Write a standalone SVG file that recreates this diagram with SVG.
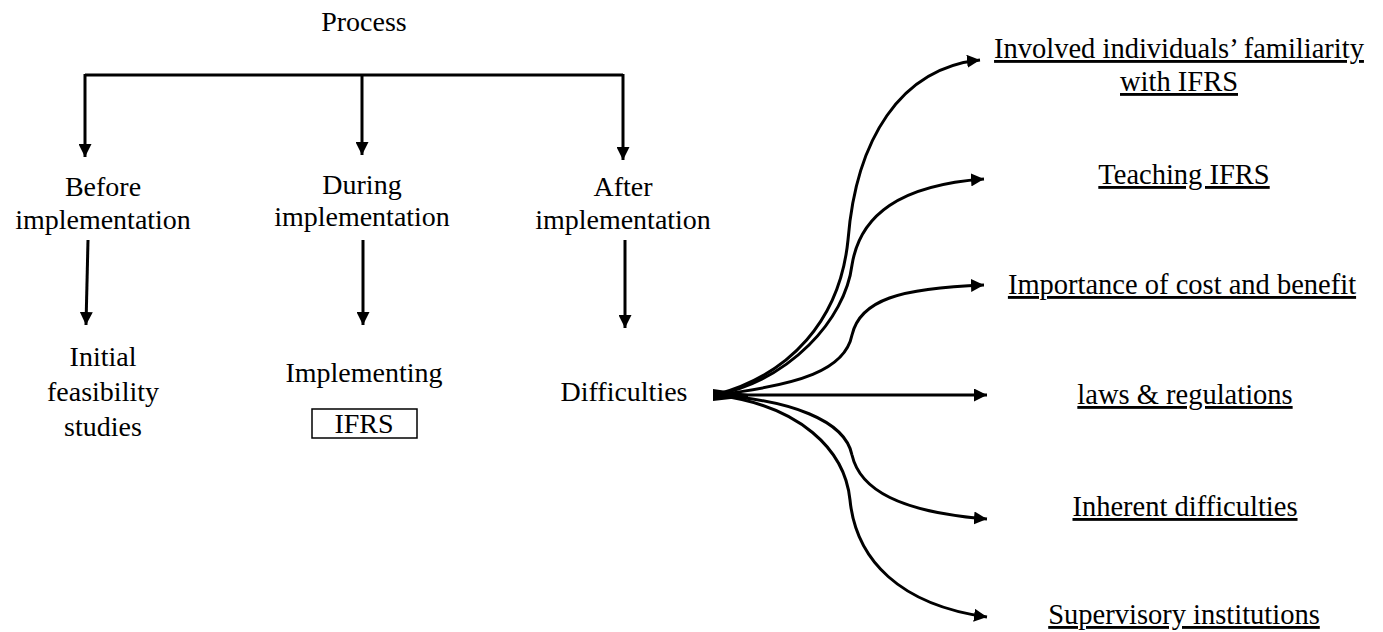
<svg xmlns="http://www.w3.org/2000/svg" width="1383" height="632" viewBox="0 0 1383 632">
<style>
text{font-family:"Liberation Serif","Times New Roman",serif;font-size:28px;fill:#000;text-anchor:middle}
.u{text-decoration:underline;font-size:28.5px}
.c{fill:none;stroke:#000;stroke-width:3}
</style>
<defs>
<marker id="ah" markerWidth="13" markerHeight="13" refX="10" refY="5" orient="auto" markerUnits="userSpaceOnUse" viewBox="0 0 10 10">
<path d="M0,0 L10,5 L0,10 Z" fill="#000"/>
</marker>
</defs>
<rect width="1383" height="632" fill="#fff"/>
<g id="connectors">
<path class="c" d="M85,75 H623"/>
<path class="c" d="M85,74 V157" marker-end="url(#ah)"/>
<path class="c" d="M362,74 V155" marker-end="url(#ah)"/>
<path class="c" d="M623,74 V160" marker-end="url(#ah)"/>
<path class="c" d="M88,240 L86,325" marker-end="url(#ah)"/>
<path class="c" d="M363,240 V325" marker-end="url(#ah)"/>
<path class="c" d="M625,240 V328" marker-end="url(#ah)"/>
<path d="M713,389 L748,394 L748,397 L713,401 Z" fill="#000"/>
<path class="c" d="M715,395 C790,375 840,320 848,240 C856,140 900,68 980,60" marker-end="url(#ah)"/>
<path class="c" d="M715,395 C790,380 845,320 852,265 C860,215 900,185 984,179" marker-end="url(#ah)"/>
<path class="c" d="M715,395 C800,385 845,370 852,335 C860,300 900,288 984,285" marker-end="url(#ah)"/>
<path class="c" d="M715,395 H987" marker-end="url(#ah)"/>
<path class="c" d="M715,395 C790,400 845,420 852,455 C860,490 900,512 987,519" marker-end="url(#ah)"/>
<path class="c" d="M715,395 C800,405 845,450 850,500 C856,560 900,605 987,617" marker-end="url(#ah)"/>
</g>
<g id="process"><text x="364" y="31">Process</text></g>
<g id="before"><text x="103" y="196">Before</text><text x="103" y="229">implementation</text></g>
<g id="during"><text x="362" y="194">During</text><text x="362" y="226">implementation</text></g>
<g id="after"><text x="623" y="196">After</text><text x="623" y="229">implementation</text></g>
<g id="initial"><text x="103" y="366">Initial</text><text x="103" y="401">feasibility</text><text x="103" y="436">studies</text></g>
<g id="implementing"><text x="364" y="382">Implementing</text><rect x="312" y="409" width="105" height="29" fill="none" stroke="#000" stroke-width="1.5"/><text x="364" y="433">IFRS</text></g>
<g id="difficulties"><text x="624" y="401">Difficulties</text></g>
<g id="familiarity"><text class="u" x="1179" y="58">Involved individuals’ familiarity</text><text class="u" x="1179" y="91">with IFRS</text></g>
<g id="teaching"><text class="u" x="1184" y="184">Teaching IFRS</text></g>
<g id="importance"><text class="u" x="1182" y="294">Importance of cost and benefit</text></g>
<g id="laws"><text class="u" x="1185" y="404">laws &amp; regulations</text></g>
<g id="inherent"><text class="u" x="1185" y="516">Inherent difficulties</text></g>
<g id="supervisory"><text class="u" x="1184" y="624">Supervisory institutions</text></g>
</svg>
